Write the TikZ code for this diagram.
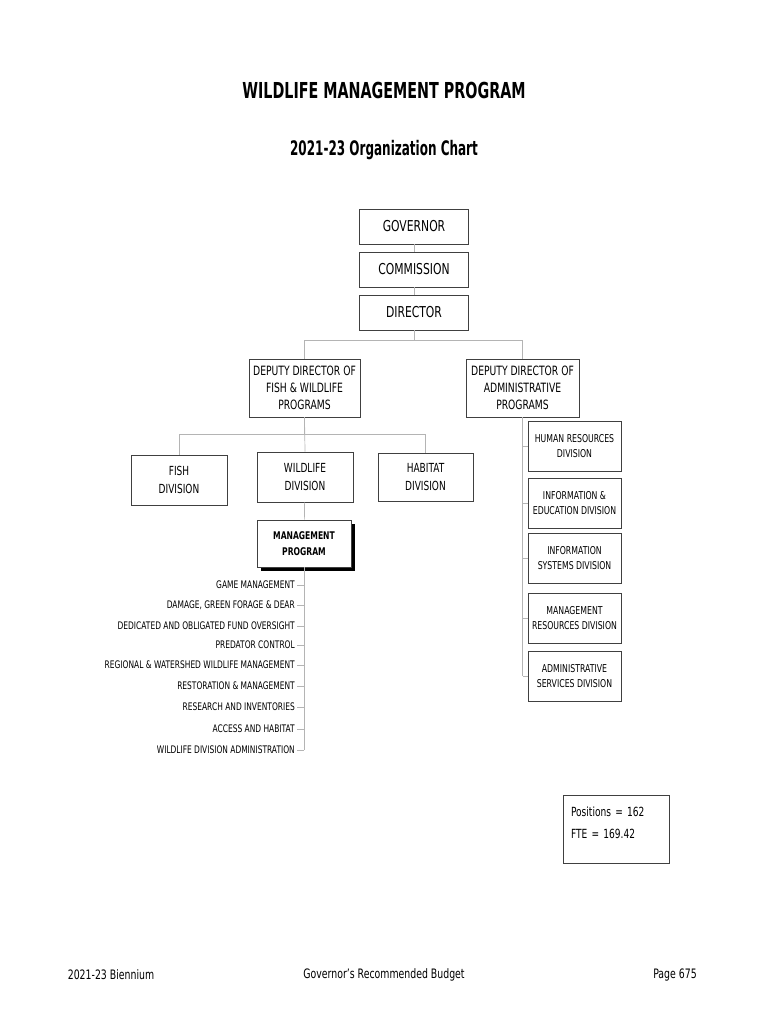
\documentclass[tikz,border=0pt]{standalone}
\usepackage{fontspec}
\setmainfont{DejaVu Sans}[FakeStretch=0.72]
\newfontfamily\titlefont{DejaVu Sans}[FakeStretch=0.65]
\newfontfamily\subtitlefont{DejaVu Sans}[FakeStretch=0.6]
\usetikzlibrary{positioning,shadows}

\definecolor{boxline}{HTML}{404040}
\definecolor{connline}{HTML}{B4B4B4}

\tikzset{
  main/.style = {draw=boxline, line width=0.9pt, fill=white, align=center, inner sep=2pt},
  topbox/.style = {main, minimum width=109pt, minimum height=35pt, font=\fontsize{15}{18}\selectfont},
  deputy/.style = {main, minimum width=111pt, minimum height=58pt, font=\fontsize{12.8}{17}\selectfont},
  division/.style = {main, minimum width=96pt, minimum height=50pt, font=\fontsize{12.5}{18}\selectfont},
  side/.style = {main, minimum width=93pt, minimum height=50pt, font=\fontsize{10.8}{15}\selectfont},
  program/.style = {main, minimum width=94pt, minimum height=47pt, font=\bfseries\fontsize{10.6}{16}\selectfont,
    drop shadow={shadow xshift=4pt, shadow yshift=-4pt, fill=black, opacity=1}},
  item/.style = {anchor=east, inner sep=2pt, font=\fontsize{10.4}{11}\selectfont},
  conn/.style = {draw=connline, line width=0.7pt},
}

\begin{document}
\begin{tikzpicture}[x=1pt, y=-1pt, node distance=43pt]
  \useasboundingbox (0,0) rectangle (770,1024);

  % title
  \node[font=\titlefont\bfseries\fontsize{22}{26}\selectfont] (title) at (384,90) {WILDLIFE MANAGEMENT PROGRAM};
  \node[font=\subtitlefont\bfseries\fontsize{20}{24}\selectfont] (subtitle) at (384,150) {2021-23 Organization Chart};

  % top of the chart
  \node[topbox] (GOV) at (414,226.5) {GOVERNOR};
  \node[topbox] (COM) [below of=GOV] {COMMISSION};
  \node[topbox] (DIR) [below of=COM] {DIRECTOR};

  \node[deputy] (DDFW) at (304.5,388) {DEPUTY DIRECTOR OF\\FISH \& WILDLIFE\\PROGRAMS};
  \node[deputy, minimum width=113pt] (DDADM) at (522.5,388) {DEPUTY DIRECTOR OF\\ADMINISTRATIVE\\PROGRAMS};

  % divisions
  \node[division] (FISH) at (179,480) {FISH\\DIVISION};
  \node[division] (WILD) at (305,477) {WILDLIFE\\DIVISION};
  \node[division, minimum width=95pt, minimum height=48pt] (HAB) at (425.5,477) {HABITAT\\DIVISION};
  \node[program] (MGMT) at (304,543.5) {MANAGEMENT\\PROGRAM};

  % program items
  \foreach \txt/\ypos [count=\i] in {
      GAME MANAGEMENT/585,
      {DAMAGE, GREEN FORAGE \& DEAR}/605,
      DEDICATED AND OBLIGATED FUND OVERSIGHT/626,
      PREDATOR CONTROL/645,
      REGIONAL \& WATERSHED WILDLIFE MANAGEMENT/665,
      RESTORATION \& MANAGEMENT/686,
      RESEARCH AND INVENTORIES/707,
      ACCESS AND HABITAT/729,
      WILDLIFE DIVISION ADMINISTRATION/750}
    \node[item] (item\i) at (297,\ypos) {\txt};

  % administrative divisions
  \foreach \txt/\ypos [count=\i] in {
      {HUMAN RESOURCES\\DIVISION}/446,
      {INFORMATION \&\\EDUCATION DIVISION}/503,
      {INFORMATION\\SYSTEMS DIVISION}/558,
      {MANAGEMENT\\RESOURCES DIVISION}/618,
      {ADMINISTRATIVE\\SERVICES DIVISION}/676}
    \node[side] (adm\i) at (574.5,\ypos) {\txt};

  \node[main, minimum width=106pt, minimum height=68pt, text width=90pt, inner sep=8pt, align=left,
        font=\fontsize{12.6}{22}\selectfont] (POS) at (616,829) {Positions = 162\\FTE = 169.42\\[-10pt]\mbox{}};

  % footer
  \node[font=\fontsize{13}{16}\selectfont] (foot1) at (111,975) {2021-23 Biennium};
  \node[font=\fontsize{13}{16}\selectfont] (foot2) at (384,975) {Governor's Recommended Budget};
  \node[font=\fontsize{13}{16}\selectfont] (foot3) at (675,975) {Page 675};

  % connectors
  \draw[conn] (GOV) -- (COM);
  \draw[conn] (COM) -- (DIR);
  \draw[conn] (DIR.south) -- ++(0,10) -| (DDFW.north);
  \draw[conn] (DIR.south) -- ++(0,10) -| (DDADM.north);
  \draw[conn] (DDFW.south) -- ++(0,17) -| (FISH.north);
  \draw[conn] (DDFW.south) -- ++(0,17) -| (HAB.north);
  \draw[conn] (DDFW.south) -- (WILD.north);
  \draw[conn] (WILD) -- (MGMT);
  \draw[conn] (MGMT.south) -- (MGMT.south |- item9.east);
  \foreach \i in {1,...,9}
    \draw[conn] (item\i.east) -- (item\i.east -| MGMT.south);
  \draw[conn] (DDADM.south) -- (DDADM.south |- adm5.west);
  \foreach \i in {1,...,5}
    \draw[conn] (adm\i.west) -- (adm\i.west -| DDADM.south);
\end{tikzpicture}
\end{document}
